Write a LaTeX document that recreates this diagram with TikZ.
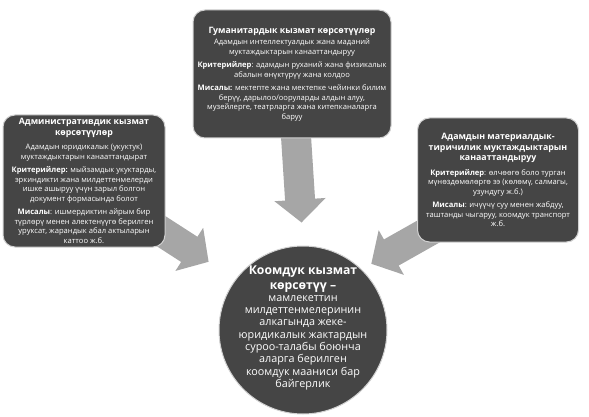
\documentclass[tikz,border=0pt]{standalone}
\usepackage{fontspec}
\setmainfont{Open Sans}
\usetikzlibrary{arrows.meta,backgrounds}

\definecolor{boxgray}{HTML}{454545}
\definecolor{arrowgray}{HTML}{A6A6A6}
\newcommand{\hdline}[1]{{\fontsize{8.8}{10}\selectfont\bfseries #1}}
\newcommand{\bighd}[1]{{\fontsize{12.2}{14}\selectfont\bfseries #1}}

\begin{document}
\begin{tikzpicture}[x=1pt,y=-1pt,
    box/.style={draw=black!18,line width=1pt,fill=boxgray,rounded corners=12pt,
        text=white,align=center,inner sep=0pt,font=\fontsize{7.6}{9.5}\selectfont},
    fat/.style={draw=arrowgray,line width=30pt,-{Triangle[length=23pt,width=50pt]}}]
    \useasboundingbox (0,0) rectangle (589,417);

    \node[box,minimum width=198pt,minimum height=128pt] (hum) at (292,74) {%
        \hdline{Гуманитардык кызмат көрсөтүүлөр}\\[2pt]
        Адамдын интеллектуалдык жана маданий\\
        муктаждыктарын канааттандыруу\\[4pt]
        \textbf{Критерийлер}: адамдын руханий жана физикалык\\
        абалын өнүктүрүү жана колдоо\\[4pt]
        \textbf{Мисалы:} мектепте жана мектепке чейинки билим\\
        берүү, дарылоо/ооруларды алдын алуу,\\
        музейлерге, театрларга жана китепканаларга\\
        баруу};
    \node[box,minimum width=162pt,minimum height=132pt] (admin) at (84,181) {%
        \hdline{Административдик кызмат}\\[1pt]
        \hdline{көрсөтүүлөр}\\[5pt]
        Адамдын юридикалык (укуктук)\\
        муктаждыктарын канааттандырат\\[4pt]
        \textbf{Критерийлер:} мыйзамдык укуктарды,\\
        эркиндикти жана милдеттенмелерди\\
        ишке ашыруу үчүн зарыл болгон\\
        документ формасында болот\\[4pt]
        \textbf{Мисалы}: ишмердиктин айрым бир\\
        түрлөрү менен алектенүүгө берилген\\
        уруксат, жарандык абал актыларын\\
        каттоо ж.б.};
    \node[box,minimum width=161pt,minimum height=124pt] (mat) at (498,180) {%
        \hdline{Адамдын материалдык-}\\[1pt]
        \hdline{тиричилик муктаждыктарын}\\[1pt]
        \hdline{канааттандыруу}\\[5pt]
        \textbf{Критерийлер}: өлчөөгө боло турган\\
        мүнөздөмөлөргө ээ (көлөмү, салмагы,\\
        узундугу ж.б.)\\[4pt]
        \textbf{Мисалы}: ичүүчү суу менен жабдуу,\\
        таштанды чыгаруу, коомдук транспорт\\
        ж.б.};

    \node[circle,fill=boxgray,draw=black!18,line width=1pt,minimum size=168pt,inner sep=0pt] (circ) at (303,330) {};
    \node[text=white,align=center,font=\fontsize{10.8}{12.3}\selectfont] (circ text) at (303,328) {%
        \bighd{Коомдук кызмат}\\[2pt]
        \bighd{көрсөтүү –}\\
        мамлекеттин\\
        милдеттенмелеринин\\
        алкагында жеке-\\
        юридикалык жактардын\\
        суроо-талабы боюнча\\
        аларга берилген\\
        коомдук мааниси бар\\
        байгерлик};

    \coordinate (admin tail) at (122,206);
    \coordinate (mat tail) at (463,212);

    \begin{scope}[on background layer]
        \draw[fat,shorten >=23pt] (hum.center) -- (circ.north);
        \draw[fat,shorten >=32pt] (admin tail) -- (circ.143);
        \draw[fat,shorten >=11pt] (mat tail) -- (circ.46);
    \end{scope}
\end{tikzpicture}
\end{document}
